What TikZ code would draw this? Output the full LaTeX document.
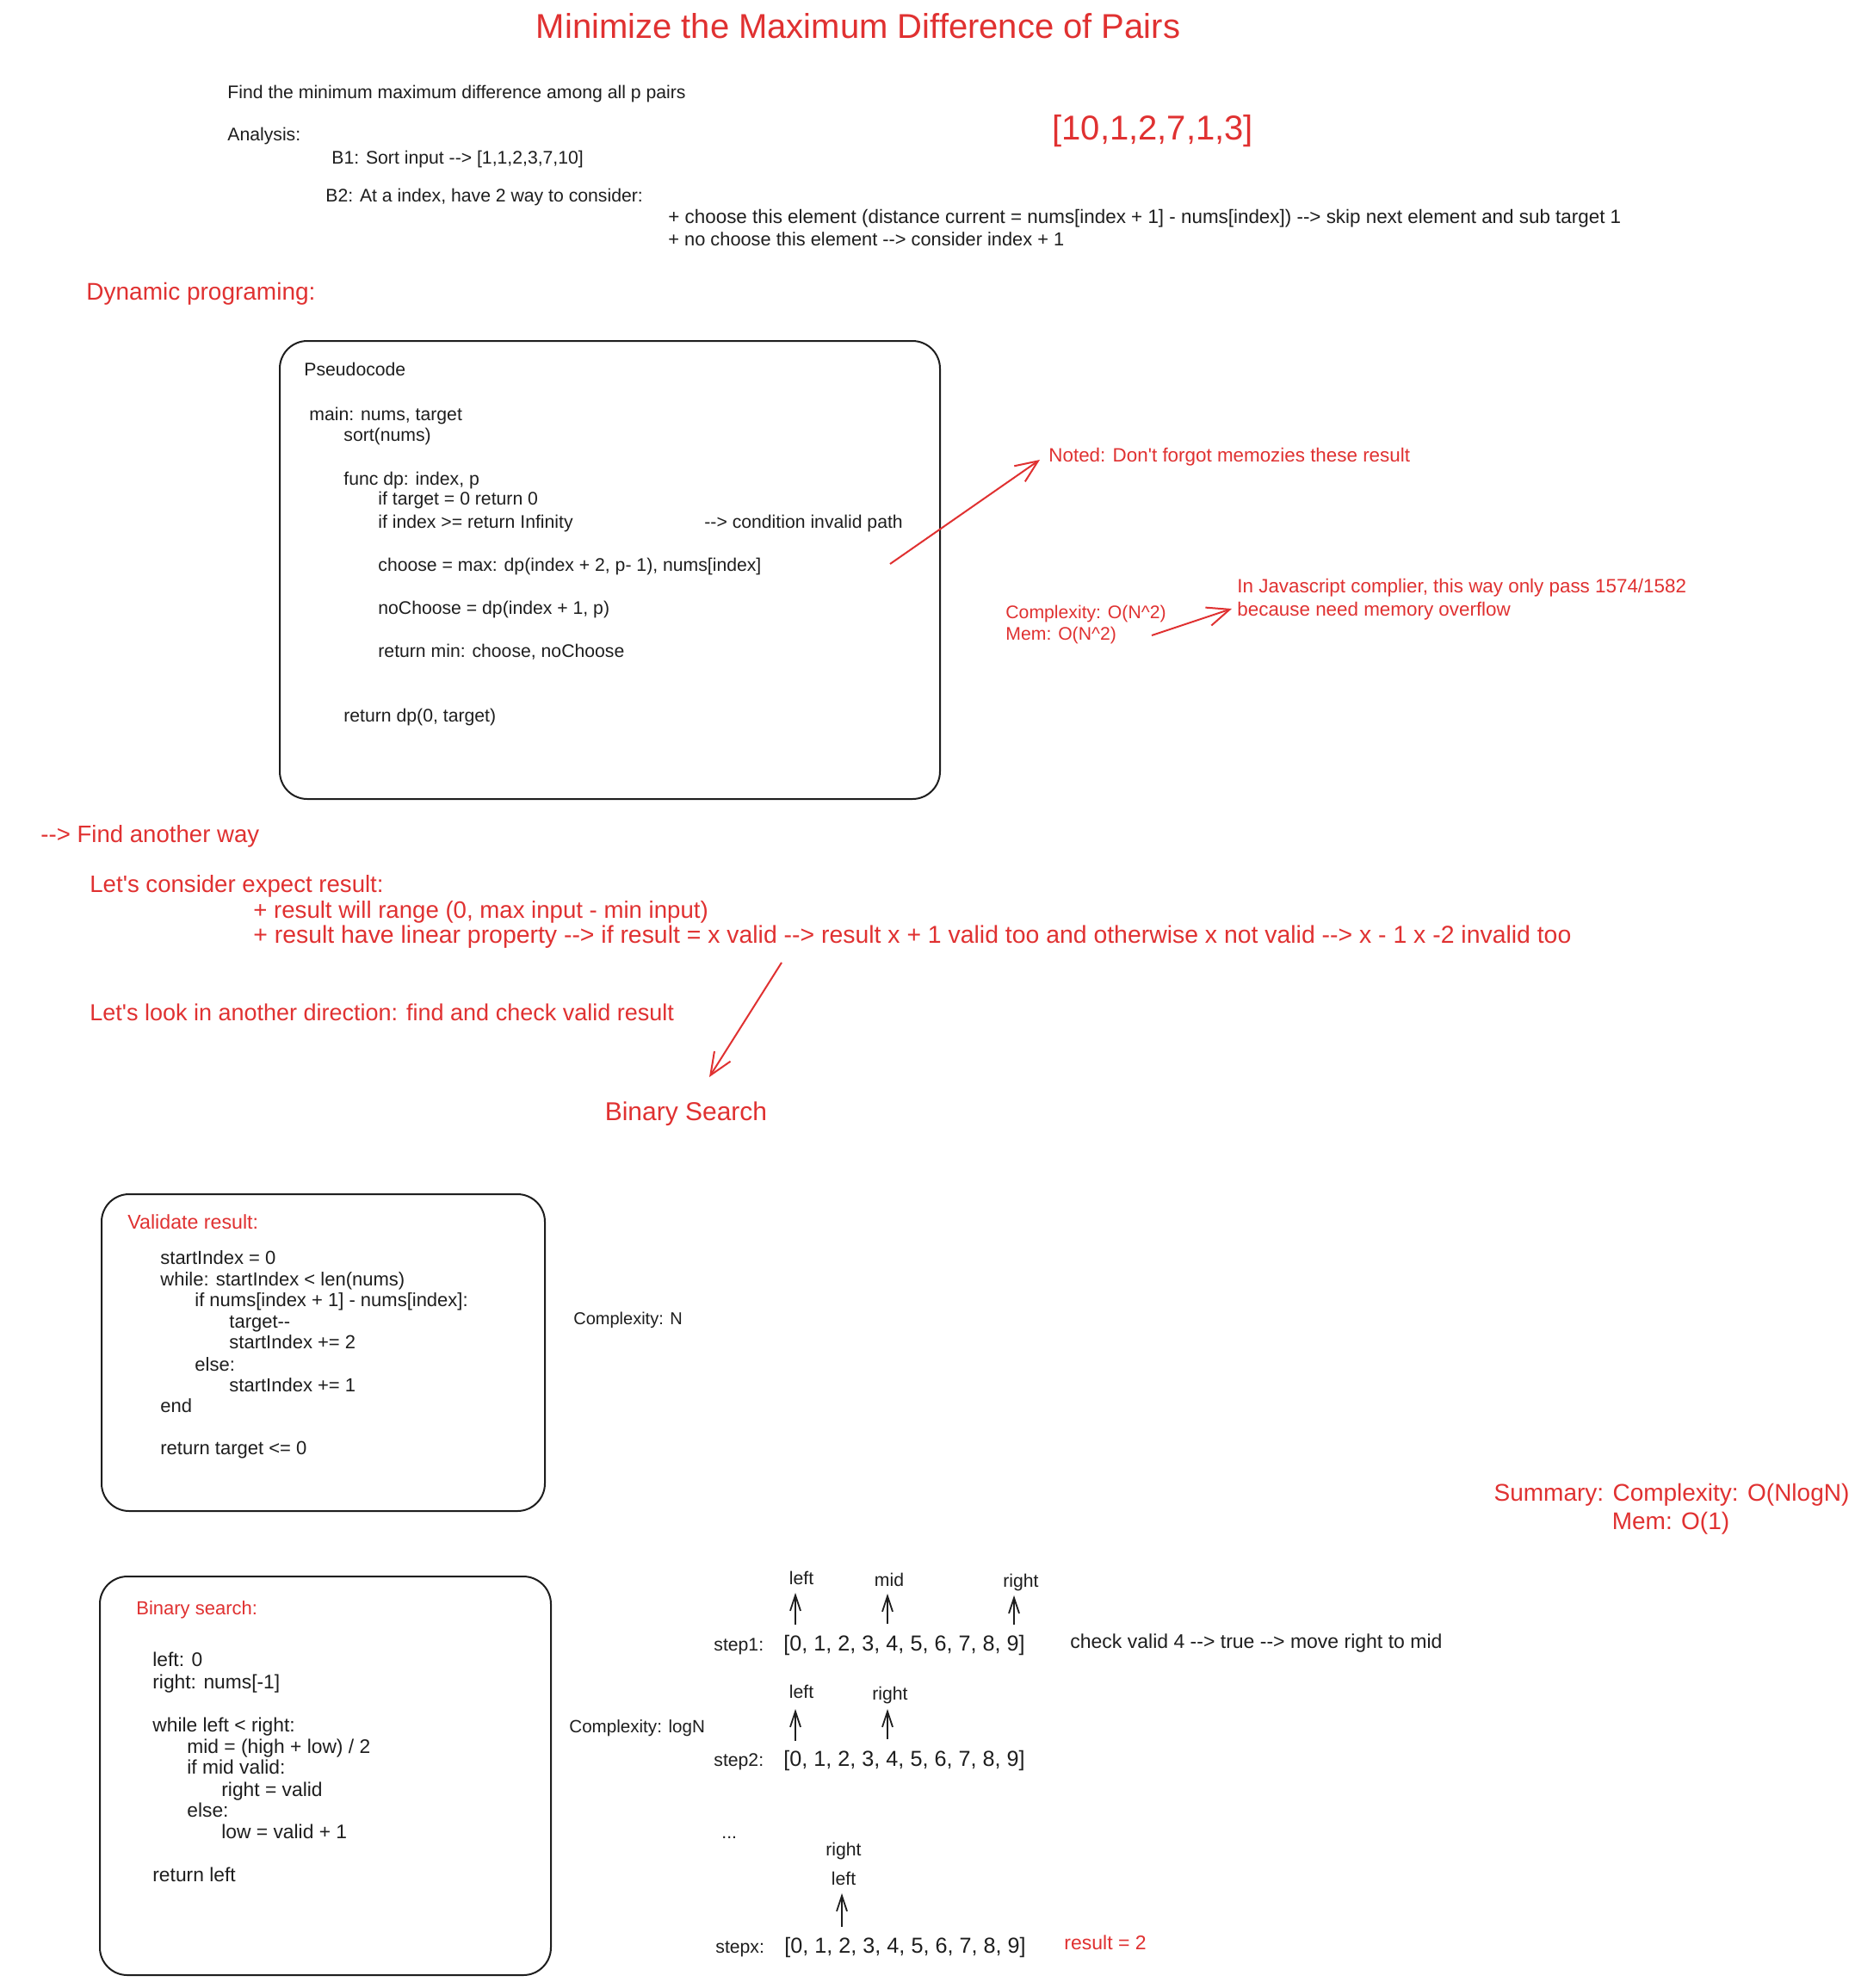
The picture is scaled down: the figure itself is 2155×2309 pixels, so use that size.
\documentclass[tikz,border=0pt]{standalone}
\usepackage{fontspec}
\setmainfont{Liberation Sans}[Ligatures=TeXOff]
\usetikzlibrary{arrows.meta}
\definecolor{exred}{HTML}{E03131}
\definecolor{ink}{HTML}{1E1E1E}
\tikzset{
  txt/.style={anchor=west, inner sep=0pt, yshift=-1.5pt, text height=0.7em, text depth=0.2em, text=ink, font=\fontsize{10.6}{12}\selectfont},
  rtxt/.style={txt, text=exred},
  big/.style={font=\fontsize{13.8}{16}\selectfont},
  note/.style={font=\fontsize{11.2}{13}\selectfont},
  vcode/.style={font=\fontsize{11}{13}\selectfont},
  bcode/.style={font=\fontsize{11.4}{13}\selectfont},
  arrtxt/.style={font=\fontsize{12.6}{14}\selectfont},
  codebox/.style={draw=ink, line width=1pt, rounded corners=16pt, inner sep=0pt},
  rarrow/.style={draw=exred, line width=1pt, -{Straight Barb[length=13pt,width=11pt]}},
  barrow/.style={draw=ink, line width=0.9pt, -{Straight Barb[length=9pt,width=6pt]}},
}
\begin{document}
\begin{tikzpicture}[x=0.5pt,y=-0.5pt]
\path[use as bounding box, fill=white] (0,0) rectangle (2155,2309);

% title and intro
\node[rtxt, anchor=center, font=\fontsize{20}{24}\selectfont] (title) at (997,36) {Minimize the Maximum Difference of Pairs};
\node[txt] (intro) at (264,106) {Find the minimum maximum difference among all p pairs};
\node[txt] (analysis) at (264,155) {Analysis:};
\node[txt] (bone) at (385,182) {B1: Sort input --> [1,1,2,3,7,10]};
\node[txt] (btwo) at (378,226) {B2: At a index, have 2 way to consider:};
\node[txt, font=\fontsize{11.2}{13}\selectfont] (cone) at (776,251) {+ choose this element (distance current = nums[index + 1] - nums[index]) --> skip next element and sub target 1};
\node[txt, font=\fontsize{10.9}{13}\selectfont] (ctwo) at (776,277) {+ no choose this element --> consider index + 1};
\node[rtxt, font=\fontsize{20}{24}\selectfont] (input) at (1222,154) {[10,1,2,7,1,3]};
\node[rtxt, font=\fontsize{14}{16}\selectfont] (dyn) at (100,340) {Dynamic programing:};

% pseudocode box
\node[codebox, minimum width=383.5pt, minimum height=266pt] (pbox) at (708.5,662) {};
\node[txt] (pone) at (353,428) {Pseudocode};
\node[txt] (ptwo) at (359,480) {main: nums, target};
\node[txt] (pthree) at (399,504) {sort(nums)};
\node[txt] (pfour) at (399,555) {func dp: index, p};
\node[txt] (pfive) at (439,578) {if target = 0 return 0};
\node[txt] (psix) at (439,605) {if index >= return Infinity};
\node[txt] (pcond) at (818,605) {--> condition invalid path};
\node[txt] (pseven) at (439,655) {choose = max: dp(index + 2, p- 1), nums[index]};
\node[txt] (peight) at (439,705) {noChoose = dp(index + 1, p)};
\node[txt] (pnine) at (439,755) {return min: choose, noChoose};
\node[txt] (pten) at (399,830) {return dp(0, target)};

% notes right
\node[rtxt, note] (noted) at (1218,528) {Noted: Don't forgot memozies these result};
\node[rtxt] (cplx) at (1168,710) {Complexity: O(N\^{}2)};
\node[rtxt] (mem) at (1168,735) {Mem: O(N\^{}2)};
\node[rtxt, note] (jsone) at (1437,680) {In Javascript complier, this way only pass 1574/1582};
\node[rtxt, note] (jstwo) at (1437,707) {because need memory overflow};
\coordinate (aones) at (1034,655);
\coordinate (aonee) at (1208,534);
\draw[rarrow] (aones) -- (aonee);
\coordinate (atwos) at (1338,738);
\coordinate (atwoe) at (1431,707);
\draw[rarrow] (atwos) -- (atwoe);

% another way
\node[rtxt, big] (another) at (47,970) {--> Find another way};
\node[rtxt, big] (consider) at (104,1028) {Let's consider expect result:};
\node[rtxt, big] (rone) at (294,1058) {+ result will range (0, max input - min input)};
\node[rtxt, font=\fontsize{14.2}{16}\selectfont] (rtwo) at (294,1087) {+ result have linear property --> if result = x valid --> result x + 1 valid too and otherwise x not valid --> x - 1 x -2 invalid too};
\node[rtxt, font=\fontsize{13.5}{16}\selectfont] (look) at (104,1177) {Let's look in another direction: find and check valid result};
\node[rtxt, anchor=center, font=\fontsize{15}{18}\selectfont] (bs) at (797,1293) {Binary Search};
\coordinate (athrees) at (908,1118);
\coordinate (athreee) at (824,1251);
\draw[rarrow] (athrees) -- (athreee);

% validate box
\node[codebox, minimum width=257.5pt, minimum height=184pt] (vbox) at (375.5,1571) {};
\node[rtxt, font=\fontsize{11.6}{13}\selectfont] (vtitle) at (148,1419) {Validate result:};
\node[txt, vcode] (vone) at (186,1460) {startIndex = 0};
\node[txt, vcode] (vtwo) at (186,1485) {while: startIndex < len(nums)};
\node[txt, vcode] (vthree) at (226,1509) {if nums[index + 1] - nums[index]:};
\node[txt, vcode] (vfour) at (266,1534) {target--};
\node[txt, vcode] (vfive) at (266,1558) {startIndex += 2};
\node[txt, vcode] (vsix) at (226,1584) {else:};
\node[txt, vcode] (vseven) at (266,1608) {startIndex += 1};
\node[txt, vcode] (veight) at (186,1632) {end};
\node[txt, vcode] (vnine) at (186,1681) {return target <= 0};
\node[txt, font=\fontsize{10}{12}\selectfont] (cn) at (666,1530) {Complexity: N};

% binary box
\node[codebox, minimum width=262pt, minimum height=231.5pt] (bbox) at (378,2062.5) {};
\node[rtxt, vcode] (btitle) at (158,1867) {Binary search:};
\node[txt, bcode] (bsone) at (177,1927) {left: 0};
\node[txt, bcode] (bstwo) at (177,1953) {right: nums[-1]};
\node[txt, bcode] (bsthree) at (177,2003) {while left < right:};
\node[txt, bcode] (bsfour) at (217,2028) {mid = (high + low) / 2};
\node[txt, bcode] (bsfive) at (217,2052) {if mid valid:};
\node[txt, bcode] (bssix) at (257,2078) {right = valid};
\node[txt, bcode] (bsseven) at (217,2102) {else:};
\node[txt, bcode] (bseight) at (257,2127) {low = valid + 1};
\node[txt, bcode] (bsnine) at (177,2177) {return left};
\node[txt, font=\fontsize{10.3}{12}\selectfont] (clog) at (661,2004) {Complexity: logN};

% steps
\node[txt, anchor=center] (lone) at (931,1832) {left};
\node[txt, anchor=center] (mone) at (1033,1834) {mid};
\node[txt, anchor=center] (rgone) at (1186,1835) {right};
\coordinate (sla) at (924,1887); \coordinate (slb) at (924,1850);
\coordinate (sma) at (1031,1886); \coordinate (smb) at (1031,1851);
\coordinate (sra) at (1178,1887); \coordinate (srb) at (1178,1853);
\draw[barrow] (sla) -- (slb);
\draw[barrow] (sma) -- (smb);
\draw[barrow] (sra) -- (srb);
\node[txt] (stepone) at (829,1909) {step1:};
\node[txt, arrtxt] (arrone) at (910,1909) {[0, 1, 2, 3, 4, 5, 6, 7, 8, 9]};
\node[txt, font=\fontsize{11.5}{14}\selectfont] (check) at (1243,1906) {check valid 4 --> true --> move right to mid};

\node[txt, anchor=center] (ltwo) at (931,1964) {left};
\node[txt, anchor=center] (rgtwo) at (1034,1966) {right};
\coordinate (tla) at (924,2022); \coordinate (tlb) at (924,1985);
\coordinate (tra) at (1031,2020); \coordinate (trb) at (1031,1985);
\draw[barrow] (tla) -- (tlb);
\draw[barrow] (tra) -- (trb);
\node[txt] (steptwo) at (829,2043) {step2:};
\node[txt, arrtxt] (arrtwo) at (910,2043) {[0, 1, 2, 3, 4, 5, 6, 7, 8, 9]};

\node[txt] (dots) at (838,2127) {...};
\node[txt, anchor=center] (rgx) at (980,2147) {right};
\node[txt, anchor=center] (lx) at (980,2181) {left};
\coordinate (xa) at (978,2238); \coordinate (xb) at (978,2199);
\draw[barrow] (xa) -- (xb);
\node[txt] (stepx) at (831,2260) {stepx:};
\node[txt, arrtxt] (arrx) at (911,2260) {[0, 1, 2, 3, 4, 5, 6, 7, 8, 9]};
\node[rtxt, font=\fontsize{11.5}{14}\selectfont] (result) at (1236,2256) {result = 2};

% summary
\node[rtxt, anchor=center, font=\fontsize{14}{16}\selectfont] (sum) at (1942,1735) {Summary: Complexity: O(NlogN)};
\node[rtxt, anchor=center, font=\fontsize{14}{16}\selectfont] (summem) at (1941,1768) {Mem: O(1)};
\end{tikzpicture}
\end{document}
